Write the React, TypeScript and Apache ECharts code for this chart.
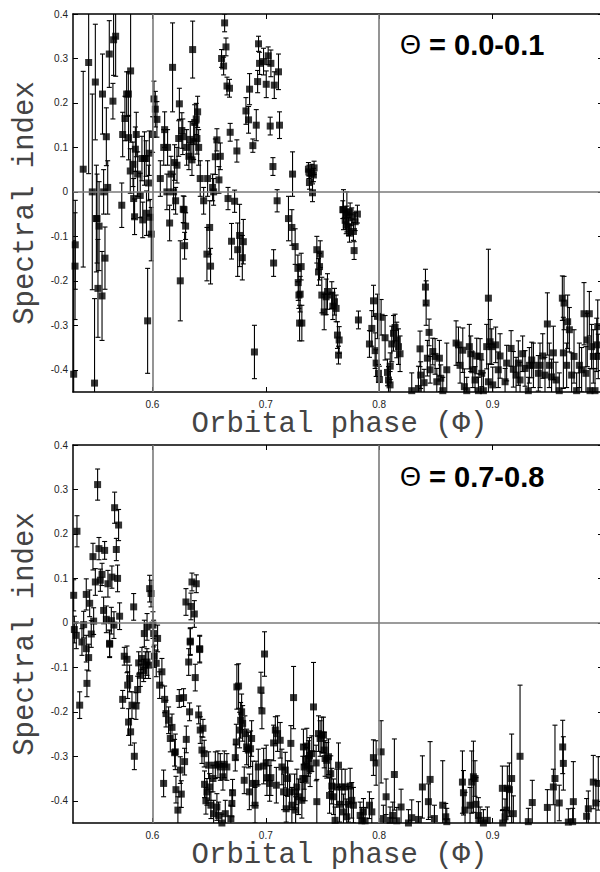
import React, { useEffect, useRef } from "react";
import * as echarts from "echarts";

// [orbital phase, spectral index, error]
const panelTop: number[][] = [
  [0.5306, -0.41, 0.3], [0.5318, -0.167, 0.12], [0.532, -0.119, 0.1], [0.539, 0.051, 0.22], [0.5438, 0.291, 0.25],
  [0.547, 0, 0.22], [0.549, -0.43, 0.19], [0.5497, 0.247, 0.13], [0.5506, -0.06, 0.12], [0.5512, -0.06, 0.1],
  [0.552, -0.217, 0.11], [0.553, -0.077, 0.1], [0.5556, -0.234, 0.1], [0.556, 0.22, 0.09], [0.557, 0, 0.05],
  [0.5582, -0.149, 0.07], [0.5594, 0.124, 0.065], [0.5606, 0.01, 0.06], [0.562, 0.31, 0.075], [0.5652, 0.204, 0.04],
  [0.5658, 0.342, 0.08], [0.5676, 0.35, 0.09], [0.573, -0.03, 0.05], [0.5738, 0.129, 0.05], [0.5758, 0.165, 0.05],
  [0.5773, 0.22, 0.05], [0.5788, 0.22, 0.05], [0.579, 0.122, 0.05], [0.5805, 0.047, 0.05], [0.5808, 0.272, 0.16],
  [0.5829, 0.062, 0.05], [0.5835, -0.015, 0.045], [0.5843, -0.056, 0.04], [0.585, 0.096, 0.05], [0.5858, 0.129, 0.05],
  [0.587, 0.04, 0.05], [0.5893, -0.008, 0.05], [0.5908, 0.075, 0.05], [0.5915, -0.063, 0.04], [0.593, 0.075, 0.06],
  [0.5945, 0.075, 0.04], [0.5948, -0.048, 0.05], [0.5958, -0.29, 0.118], [0.5967, 0.02, 0.04], [0.5973, 0.087, 0.05],
  [0.598, -0.057, 0.04], [0.599, -0.095, 0.06], [0.6002, 0.129, 0.04], [0.6014, 0.209, 0.04], [0.6026, 0.186, 0.04],
  [0.604, 0.163, 0.04], [0.607, 0.03, 0.04], [0.61, 0.1, 0.04], [0.6108, 0.14, 0.04], [0.6128, 0, 0.04],
  [0.6134, 0.1, 0.04], [0.6152, -0.07, 0.04], [0.6164, 0.04, 0.04], [0.6178, 0.28, 0.1], [0.6187, 0, 0.04],
  [0.6196, 0.066, 0.04], [0.6205, -0.02, 0.03], [0.6217, 0.06, 0.04], [0.6232, 0.12, 0.04], [0.6238, 0.198, 0.035],
  [0.6246, -0.2, 0.09], [0.626, 0.138, 0.04], [0.6268, 0.124, 0.04], [0.6272, -0.039, 0.03], [0.6279, -0.04, 0.03],
  [0.6284, -0.121, 0.03], [0.6293, -0.077, 0.03], [0.6302, 0.1, 0.04], [0.6322, 0.08, 0.03], [0.6334, 0.118, 0.04],
  [0.6349, 0.072, 0.035], [0.6355, 0.32, 0.064], [0.6364, 0.113, 0.04], [0.6373, 0.156, 0.04], [0.6387, 0.164, 0.035],
  [0.6393, 0.12, 0.035], [0.6399, 0.18, 0.035], [0.6408, 0.1, 0.04], [0.6422, 0.03, 0.04], [0.6452, -0.02, 0.03],
  [0.6481, -0.14, 0.06], [0.6487, 0.03, 0.04], [0.6505, -0.08, 0.06], [0.6513, -0.167, 0.04], [0.6531, 0.01, 0.03],
  [0.654, 0, 0.03], [0.6555, 0.079, 0.04], [0.6569, 0.117, 0.025], [0.6587, 0.027, 0.03], [0.6599, 0.08, 0.03],
  [0.661, 0.3, 0.02], [0.6628, 0.283, 0.02], [0.6637, 0.38, 0.02], [0.6649, 0.326, 0.02], [0.6658, 0.238, 0.02],
  [0.6667, -0.015, 0.025], [0.668, 0.233, 0.02], [0.6686, 0.134, 0.02], [0.6698, -0.111, 0.04], [0.6725, -0.021, 0.025],
  [0.6745, 0.092, 0.025], [0.6752, -0.13, 0.06], [0.6769, -0.098, 0.07], [0.6793, -0.148, 0.05], [0.6802, -0.112, 0.05],
  [0.6825, 0.182, 0.03], [0.6848, 0.162, 0.03], [0.6857, 0.231, 0.035], [0.6886, 0.104, 0.015], [0.69, -0.36, 0.06],
  [0.6916, 0.15, 0.035], [0.6928, 0.248, 0.025], [0.6936, 0.333, 0.017], [0.6945, 0.289, 0.025], [0.698, 0.293, 0.03],
  [0.7004, 0.242, 0.03], [0.7021, 0.306, 0.02], [0.7039, 0.148, 0.02], [0.7045, 0.289, 0.03], [0.7063, 0.057, 0.02],
  [0.7069, -0.16, 0.03], [0.7075, 0.24, 0.03], [0.71, -0.02, 0.025], [0.7112, 0.27, 0.04], [0.7121, 0.15, 0.03],
  [0.72, -0.06, 0.05], [0.7236, 0.04, 0.05], [0.723, -0.08, 0.04], [0.7259, -0.123, 0.04], [0.7283, -0.172, 0.03],
  [0.7286, -0.204, 0.04], [0.7292, -0.232, 0.03], [0.7298, -0.295, 0.04], [0.7303, -0.23, 0.04], [0.7318, -0.295, 0.04],
  [0.7312, -0.168, 0.03], [0.7376, 0.051, 0.015], [0.7380, 0.045, 0.015], [0.7406, 0.042, 0.02], [0.7385, 0.021, 0.015],
  [0.742, 0.038, 0.015], [0.7412, -0.002, 0.02], [0.7426, 0.054, 0.015], [0.745, -0.13, 0.03], [0.7465, -0.18, 0.03],
  [0.748, -0.14, 0.03], [0.7474, -0.168, 0.03], [0.7494, -0.232, 0.04], [0.7515, -0.27, 0.04], [0.7532, -0.236, 0.04],
  [0.7544, -0.224, 0.04], [0.7582, -0.232, 0.03], [0.7591, -0.257, 0.03], [0.7606, -0.247, 0.03], [0.762, -0.262, 0.03],
  [0.7632, -0.322, 0.03], [0.7647, -0.333, 0.03], [0.7641, -0.367, 0.02], [0.7679, -0.04, 0.02], [0.77, -0.064, 0.02],
  [0.7714, -0.052, 0.02], [0.7729, -0.078, 0.02], [0.7744, -0.045, 0.02], [0.7758, -0.056, 0.02], [0.7773, -0.089, 0.02],
  [0.7788, -0.067, 0.02], [0.7808, -0.05, 0.02], [0.7738, -0.093, 0.02], [0.7709, -0.074, 0.02], [0.7685, -0.04, 0.045],
  [0.7715, -0.045, 0.045], [0.7779, -0.132, 0.02], [0.7817, -0.288, 0.02], [0.7914, -0.342, 0.03], [0.7935, -0.307, 0.04],
  [0.795, -0.245, 0.035], [0.7964, -0.357, 0.04], [0.7973, -0.385, 0.03], [0.7985, -0.28, 0.05], [0.7994, -0.408, 0.02],
  [0.8002, -0.422, 0.03], [0.8017, -0.282, 0.04], [0.8052, -0.328, 0.05], [0.8073, -0.406, 0.03], [0.8082, -0.423, 0.03],
  [0.8096, -0.434, 0.03], [0.8097, -0.392, 0.03], [0.8111, -0.342, 0.04], [0.8126, -0.318, 0.04], [0.814, -0.305, 0.03],
  [0.8155, -0.333, 0.04], [0.817, -0.348, 0.04], [0.8184, -0.364, 0.04], [0.8287, -0.447, 0.04], [0.8346, -0.442, 0.05],
  [0.836, -0.353, 0.04], [0.8366, -0.412, 0.03], [0.8396, -0.429, 0.03], [0.8408, -0.214, 0.04], [0.8414, -0.25, 0.05],
  [0.8425, -0.374, 0.04], [0.844, -0.316, 0.03], [0.8449, -0.4, 0.03], [0.8472, -0.359, 0.03], [0.8493, -0.37, 0.04],
  [0.8508, -0.427, 0.03], [0.8531, -0.374, 0.04], [0.8543, -0.419, 0.03], [0.8561, -0.447, 0.03], [0.8596, -0.4, 0.06],
  [0.8678, -0.34, 0.05], [0.8699, -0.344, 0.04], [0.8713, -0.39, 0.04], [0.8737, -0.356, 0.05], [0.8751, -0.438, 0.04],
  [0.8772, -0.447, 0.03], [0.8795, -0.348, 0.05], [0.8807, -0.364, 0.04], [0.8825, -0.4, 0.04], [0.8845, -0.423, 0.03],
  [0.886, -0.369, 0.04], [0.8875, -0.447, 0.03], [0.889, -0.37, 0.04], [0.8904, -0.408, 0.03], [0.8919, -0.447, 0.04],
  [0.8948, -0.348, 0.05], [0.8963, -0.427, 0.04], [0.8978, -0.337, 0.05], [0.8992, -0.348, 0.04], [0.9001, -0.434, 0.04],
  [0.8963, -0.239, 0.11], [0.9027, -0.344, 0.04], [0.905, -0.4, 0.04], [0.9066, -0.369, 0.05], [0.911, -0.427, 0.03],
  [0.9124, -0.385, 0.04], [0.9163, -0.352, 0.04], [0.9183, -0.399, 0.04], [0.9207, -0.412, 0.04], [0.9227, -0.385, 0.05],
  [0.9242, -0.423, 0.04], [0.9265, -0.364, 0.04], [0.9286, -0.397, 0.04], [0.9315, -0.447, 0.03], [0.9324, -0.39, 0.04],
  [0.9345, -0.378, 0.04], [0.936, -0.39, 0.05], [0.9403, -0.408, 0.04], [0.9418, -0.39, 0.05], [0.9442, -0.369, 0.05],
  [0.9462, -0.412, 0.04], [0.9483, -0.297, 0.07], [0.95, -0.39, 0.05], [0.952, -0.416, 0.04], [0.9536, -0.362, 0.06],
  [0.9559, -0.423, 0.04], [0.9588, -0.447, 0.04], [0.9615, -0.239, 0.05], [0.963, -0.25, 0.06], [0.9624, -0.362, 0.08],
  [0.9653, -0.39, 0.05], [0.9662, -0.292, 0.06], [0.9677, -0.31, 0.05], [0.9697, -0.412, 0.05], [0.9718, -0.37, 0.06],
  [0.9741, -0.447, 0.04], [0.9765, -0.39, 0.05], [0.9785, -0.4, 0.05], [0.9806, -0.274, 0.07], [0.9823, -0.408, 0.06],
  [0.9835, -0.333, 0.06], [0.9853, -0.274, 0.05], [0.9859, -0.447, 0.05], [0.9873, -0.348, 0.05], [0.9888, -0.37, 0.06],
  [0.9903, -0.447, 0.05], [0.9918, -0.344, 0.06], [0.9927, -0.303, 0.06], [0.9932, -0.37, 0.05],
];

const panelBottom: number[][] = [
  [0.5306, 0.062, 0.035], [0.5312, -0.015, 0.03], [0.5335, 0.206, 0.035], [0.5329, -0.028, 0.03], [0.5394, -0.004, 0.03],
  [0.5417, 0.064, 0.035], [0.5447, 0.044, 0.03], [0.5461, -0.025, 0.03], [0.5476, 0.149, 0.03], [0.5482, 0.004, 0.03],
  [0.5497, 0.092, 0.03], [0.5517, 0.311, 0.035], [0.5529, 0.167, 0.025], [0.5541, 0.096, 0.025], [0.5556, 0.109, 0.025],
  [0.557, 0.028, 0.03], [0.5579, 0.163, 0.02], [0.5594, 0.008, 0.03], [0.5608, 0.088, 0.03], [0.5623, -0.046, 0.03],
  [0.5638, 0.005, 0.03], [0.5643, 0.103, 0.025], [0.5661, -0.005, 0.03], [0.5667, 0.259, 0.035], [0.5682, 0.165, 0.025],
  [0.5693, 0.1, 0.03], [0.5702, 0.22, 0.035], [0.5711, 0.015, 0.03], [0.5835, 0.036, 0.03], [0.5929, -0.024, 0.03],
  [0.5953, -0.009, 0.03], [0.5976, 0.077, 0.03], [0.5988, 0.066, 0.03], [0.6005, -0.005, 0.03], [0.6011, -0.024, 0.03],
  [0.6046, -0.035, 0.03], [0.6296, 0.047, 0.03], [0.634, 0.037, 0.03], [0.6349, 0.092, 0.02], [0.637, 0.02, 0.03],
  [0.6387, 0.088, 0.02], [0.6334, -0.041, 0.03], [0.6417, -0.058, 0.03],
  [0.5359, -0.185, 0.03], [0.5379, -0.043, 0.03], [0.5417, -0.058, 0.03], [0.5423, -0.136, 0.03], [0.5438, -0.078, 0.03],
  [0.5623, -0.048, 0.03], [0.5738, -0.172, 0.02], [0.5752, -0.075, 0.02], [0.5776, -0.082, 0.03], [0.5782, -0.14, 0.03],
  [0.579, -0.223, 0.03], [0.5799, -0.125, 0.03], [0.5808, -0.245, 0.03], [0.582, -0.185, 0.03], [0.5841, -0.3, 0.03],
  [0.5855, -0.187, 0.03], [0.587, -0.15, 0.03], [0.5879, -0.09, 0.025], [0.5893, -0.118, 0.025], [0.5908, -0.08, 0.025],
  [0.5923, -0.107, 0.025], [0.5938, -0.095, 0.03], [0.5952, -0.088, 0.03], [0.5967, -0.095, 0.03], [0.6017, -0.075, 0.025],
  [0.6034, -0.091, 0.03], [0.6064, -0.14, 0.03], [0.6084, -0.11, 0.03], [0.6099, -0.361, 0.03], [0.6108, -0.172, 0.03],
  [0.612, -0.204, 0.03], [0.6143, -0.219, 0.03], [0.6158, -0.26, 0.03], [0.6173, -0.235, 0.03], [0.6196, -0.292, 0.03],
  [0.6202, -0.29, 0.04], [0.6208, -0.375, 0.03], [0.6225, -0.421, 0.03], [0.6237, -0.17, 0.02], [0.6246, -0.331, 0.03],
  [0.6255, -0.385, 0.03], [0.6275, -0.168, 0.02], [0.6284, -0.312, 0.03], [0.6299, -0.262, 0.03], [0.632, -0.088, 0.03],
  [0.6328, -0.2, 0.02], [0.6334, -0.043, 0.03], [0.6378, -0.123, 0.03], [0.6408, -0.207, 0.02], [0.6417, -0.06, 0.03],
  [0.6422, -0.241, 0.03], [0.6437, -0.286, 0.03], [0.6446, -0.237, 0.02], [0.6457, -0.294, 0.03], [0.646, -0.363, 0.03],
  [0.6472, -0.4, 0.03], [0.6481, -0.38, 0.03], [0.6496, -0.32, 0.03], [0.6505, -0.369, 0.03], [0.6516, -0.41, 0.03],
  [0.6534, -0.35, 0.03], [0.654, -0.429, 0.03], [0.6555, -0.32, 0.03], [0.6569, -0.414, 0.03], [0.6578, -0.318, 0.03],
  [0.6584, -0.433, 0.03], [0.6599, -0.324, 0.03], [0.6613, -0.45, 0.02], [0.6622, -0.346, 0.03], [0.6634, -0.318, 0.03],
  [0.6643, -0.429, 0.03], [0.6657, -0.324, 0.03], [0.6692, -0.44, 0.03], [0.6701, -0.406, 0.03], [0.6707, -0.382, 0.03],
  [0.6731, -0.303, 0.03], [0.674, -0.268, 0.04], [0.6745, -0.144, 0.05], [0.676, -0.142, 0.05], [0.6769, -0.241, 0.04],
  [0.6778, -0.219, 0.04], [0.6787, -0.2, 0.04], [0.6796, -0.226, 0.04], [0.681, -0.354, 0.03], [0.6816, -0.249, 0.04],
  [0.6831, -0.279, 0.04], [0.6846, -0.286, 0.04], [0.6855, -0.38, 0.04], [0.6866, -0.283, 0.04], [0.6875, -0.26, 0.04],
  [0.6884, -0.361, 0.05], [0.6905, -0.41, 0.04], [0.6914, -0.361, 0.05], [0.6934, -0.324, 0.04], [0.6957, -0.151, 0.04],
  [0.6966, -0.198, 0.04], [0.6981, -0.322, 0.04], [0.6989, -0.07, 0.05], [0.7004, -0.315, 0.04], [0.701, -0.348, 0.04],
  [0.7034, -0.361, 0.04], [0.7045, -0.348, 0.04], [0.7069, -0.27, 0.04], [0.7084, -0.241, 0.03], [0.7093, -0.365, 0.04],
  [0.7104, -0.249, 0.04], [0.7127, -0.264, 0.04], [0.7142, -0.324, 0.04], [0.7157, -0.38, 0.04], [0.7172, -0.331, 0.04],
  [0.718, -0.418, 0.03], [0.7192, -0.35, 0.04], [0.721, -0.38, 0.04], [0.7221, -0.271, 0.04], [0.723, -0.41, 0.04],
  [0.7245, -0.168, 0.07], [0.7254, -0.38, 0.04], [0.7263, -0.421, 0.03], [0.7274, -0.369, 0.04], [0.7289, -0.391, 0.04],
  [0.7318, -0.399, 0.04], [0.7326, -0.35, 0.05], [0.7338, -0.324, 0.05], [0.7347, -0.35, 0.05], [0.7362, -0.32, 0.04],
  [0.7376, -0.305, 0.04], [0.7385, -0.298, 0.04], [0.7391, -0.328, 0.04], [0.7406, -0.294, 0.04], [0.7332, -0.279, 0.04],
  [0.7362, -0.277, 0.04], [0.7421, -0.189, 0.1], [0.7444, -0.315, 0.04], [0.745, -0.402, 0.05], [0.7465, -0.249, 0.04],
  [0.7479, -0.26, 0.04], [0.7494, -0.252, 0.04], [0.7509, -0.252, 0.04], [0.7515, -0.286, 0.04], [0.7523, -0.305, 0.04],
  [0.7538, -0.309, 0.04], [0.7553, -0.301, 0.04], [0.7562, -0.388, 0.04], [0.7573, -0.339, 0.04], [0.7582, -0.367, 0.04],
  [0.7597, -0.391, 0.04], [0.7611, -0.444, 0.03], [0.7626, -0.369, 0.04], [0.7641, -0.32, 0.05], [0.765, -0.408, 0.04],
  [0.767, -0.369, 0.04], [0.7685, -0.425, 0.04], [0.77, -0.369, 0.04], [0.7714, -0.436, 0.04], [0.7729, -0.408, 0.04],
  [0.7744, -0.367, 0.04], [0.7758, -0.399, 0.04], [0.7773, -0.41, 0.04], [0.7832, -0.433, 0.03], [0.7846, -0.445, 0.03],
  [0.7861, -0.425, 0.03], [0.7876, -0.445, 0.03], [0.7914, -0.41, 0.03], [0.7935, -0.425, 0.03], [0.7949, -0.303, 0.04],
  [0.7973, -0.315, 0.05], [0.8017, -0.29, 0.07], [0.8037, -0.44, 0.03], [0.8061, -0.391, 0.04], [0.8096, -0.444, 0.03],
  [0.812, -0.433, 0.03], [0.8134, -0.341, 0.08], [0.8155, -0.445, 0.03], [0.8193, -0.414, 0.04], [0.8258, -0.45, 0.03],
  [0.8287, -0.438, 0.04], [0.8346, -0.442, 0.04], [0.8381, -0.369, 0.07], [0.8434, -0.402, 0.04], [0.8449, -0.352, 0.085],
  [0.8487, -0.44, 0.03], [0.856, -0.41, 0.1], [0.8587, -0.436, 0.03], [0.8596, -0.447, 0.03], [0.8734, -0.358, 0.07],
  [0.8743, -0.382, 0.05], [0.8757, -0.421, 0.04], [0.8801, -0.41, 0.04], [0.8816, -0.358, 0.07], [0.8831, -0.346, 0.08],
  [0.8845, -0.35, 0.04], [0.8854, -0.408, 0.06], [0.8875, -0.433, 0.04], [0.889, -0.444, 0.03], [0.8919, -0.45, 0.03],
  [0.8954, -0.444, 0.03], [0.9089, -0.45, 0.03], [0.9086, -0.372, 0.05], [0.911, -0.436, 0.04], [0.9124, -0.421, 0.05],
  [0.913, -0.372, 0.05], [0.9148, -0.375, 0.06], [0.9168, -0.35, 0.1], [0.9183, -0.429, 0.04], [0.9242, -0.3, 0.16],
  [0.9315, -0.447, 0.03], [0.935, -0.404, 0.05], [0.9483, -0.415, 0.04], [0.9536, -0.369, 0.04], [0.955, -0.35, 0.12],
  [0.9588, -0.405, 0.04], [0.9618, -0.279, 0.06], [0.9624, -0.316, 0.06], [0.9668, -0.448, 0.03], [0.9706, -0.447, 0.03],
  [0.9712, -0.402, 0.09], [0.9829, -0.435, 0.04], [0.9844, -0.418, 0.04], [0.9888, -0.358, 0.06], [0.9911, -0.405, 0.05],
  [0.9932, -0.361, 0.06],
];

const panelLabels = ["0.0-0.1", "0.7-0.8"];
const xTickValues = [0.6, 0.7, 0.8, 0.9, 1.0];
const xLabelValues = [0.6, 0.7, 0.8, 0.9];
const yTickValues = [-0.4, -0.3, -0.2, -0.1, 0, 0.1, 0.2, 0.3, 0.4];
const referencePhases = [0.6, 0.8];
const referenceIndex = [0];
const xTitle = "Orbital phase (Φ)";
const yTitle = "Spectral index";
const phaseRange = [0.53, 1.0];
const indexRange = [-0.45, 0.4];

const MONO = '"Liberation Mono", "Courier New", monospace';
const SANS = '"Liberation Sans", Arial, Helvetica, sans-serif';

function fmt(v: number) {
  if (Math.abs(v) < 1e-9) return "0";
  return v.toFixed(1);
}

function buildOption() {
  const gridTops = [14, 445];
  const grids = gridTops.map((t) => ({
    left: 73,
    right: -6,
    top: t,
    height: 378,
    containLabel: false,
    outerBoundsMode: "none",
    show: false,
  }));

  const xAxes: any[] = [];
  const yAxes: any[] = [];
  gridTops.forEach((_, i) => {
    xAxes.push({
      type: "value",
      gridIndex: i,
      position: "bottom",
      min: phaseRange[0],
      max: phaseRange[1],
      axisLine: { show: true, onZero: false, lineStyle: { color: "#000", width: 1.5 } },
      axisTick: { show: true, inside: true, length: 5, customValues: xTickValues, lineStyle: { color: "#000" } },
      axisLabel: {
        show: true,
        customValues: xLabelValues,
        formatter: fmt,
        fontSize: 10,
        fontFamily: SANS,
        color: "#222",
        margin: 7,
      },
      splitLine: { show: false },
      name: xTitle,
      nameLocation: "middle",
      nameGap: 18,
      nameTextStyle: { fontFamily: MONO, fontSize: 29, color: "#444" },
    });
    xAxes.push({
      type: "value",
      gridIndex: i,
      position: "top",
      min: phaseRange[0],
      max: phaseRange[1],
      axisLine: { show: true, onZero: false, lineStyle: { color: "#000", width: 1.5 } },
      axisTick: { show: true, inside: true, length: 5, customValues: xTickValues, lineStyle: { color: "#000" } },
      axisLabel: { show: false },
      splitLine: { show: false },
    });
    yAxes.push({
      type: "value",
      gridIndex: i,
      position: "left",
      min: indexRange[0],
      max: indexRange[1],
      axisLine: { show: true, onZero: false, lineStyle: { color: "#000", width: 1.5 } },
      axisTick: { show: true, inside: true, length: 5, customValues: yTickValues, lineStyle: { color: "#000" } },
      axisLabel: {
        show: true,
        customValues: yTickValues,
        formatter: fmt,
        fontSize: 10,
        fontFamily: SANS,
        color: "#222",
        margin: 5,
      },
      splitLine: { show: false },
      name: yTitle,
      nameLocation: "middle",
      nameGap: 33,
      nameTextStyle: { fontFamily: MONO, fontSize: 29, color: "#444" },
    });
    yAxes.push({
      type: "value",
      gridIndex: i,
      position: "right",
      min: indexRange[0],
      max: indexRange[1],
      axisLine: { show: true, onZero: false, lineStyle: { color: "#000", width: 1.5 } },
      axisTick: { show: true, inside: true, length: 8, customValues: yTickValues, lineStyle: { color: "#000" } },
      axisLabel: { show: false },
      splitLine: { show: false },
    });
  });

  const panels = [panelTop, panelBottom];
  const series: any[] = [];
  panels.forEach((data, i) => {
    series.push({
      type: "custom",
      xAxisIndex: i * 2,
      yAxisIndex: i * 2,
      clip: true,
      silent: true,
      z: 2,
      encode: { x: 0, y: 1 },
      data: data,
      renderItem: (_params: any, api: any) => {
        const x = api.value(0);
        const y = api.value(1);
        const e = api.value(2);
        const hi = api.coord([x, y + e]);
        const lo = api.coord([x, y - e]);
        const cw = 2.5;
        const st = { stroke: "#000", lineWidth: 1.1 };
        return {
          type: "group",
          children: [
            { type: "line", shape: { x1: hi[0], y1: hi[1], x2: lo[0], y2: lo[1] }, style: st },
            { type: "line", shape: { x1: hi[0] - cw, y1: hi[1], x2: hi[0] + cw, y2: hi[1] }, style: st },
            { type: "line", shape: { x1: lo[0] - cw, y1: lo[1], x2: lo[0] + cw, y2: lo[1] }, style: st },
          ],
        };
      },
      markLine: {
        silent: true,
        symbol: ["none", "none"],
        label: { show: false },
        lineStyle: { color: "#7a7a7a", width: 1.6, type: "solid" },
        data: [
          ...referencePhases.map((p) => ({ xAxis: p })),
          ...referenceIndex.map((v) => ({ yAxis: v })),
        ],
      },
    });
    series.push({
      type: "scatter",
      xAxisIndex: i * 2,
      yAxisIndex: i * 2,
      symbol: "rect",
      symbolSize: 7,
      z: 3,
      silent: true,
      itemStyle: { color: "#000" },
      data: data.map((d) => [d[0], d[1]]),
    });
  });

  const graphic = panelLabels.map((lab, i) => ({
    type: "text",
    x: 400,
    y: i === 0 ? 45 : 477,
    silent: true,
    style: {
      text: "{g|Θ} = " + lab,
      fontFamily: SANS,
      fontSize: 29,
      fontWeight: "bold",
      fill: "#000",
      verticalAlign: "middle",
      align: "left",
      rich: {
        g: { fontFamily: SANS, fontSize: 27, fontWeight: "normal", fill: "#000" },
      },
    },
  }));

  return {
    animation: false,
    backgroundColor: "#fff",
    grid: grids,
    xAxis: xAxes,
    yAxis: yAxes,
    series,
    graphic,
  };
}

export default function App() {
  const ref = useRef<HTMLDivElement>(null);
  useEffect(() => {
    if (!ref.current) return;
    const chart = echarts.init(ref.current, null, { renderer: "svg" });
    chart.setOption(buildOption() as any);
    return () => chart.dispose();
  }, []);
  return (
    <div
      ref={ref}
      style={{ position: "absolute", left: 0, top: 0, width: 600, height: 872, background: "#fff" }}
    />
  );
}
